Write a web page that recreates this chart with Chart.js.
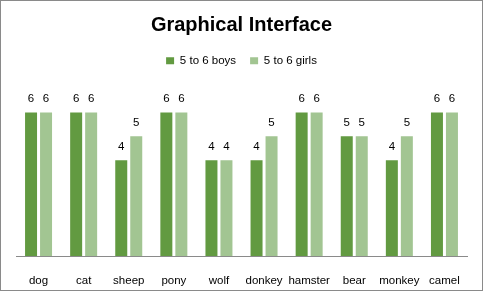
<!DOCTYPE html>
<html>
<head>
<meta charset="utf-8">
<script src="https://cdn.jsdelivr.net/npm/chart.js@4"></script>
<style>
  html, body { margin: 0; padding: 0; background: #fff; }
  #wrap { width: 483px; height: 291px; position: relative; }
</style>
</head>
<body>
<div id="wrap"><canvas id="chart" width="483" height="291"></canvas></div>
<script>
const categories = ['dog', 'cat', 'sheep', 'pony', 'wolf', 'donkey', 'hamster', 'bear', 'monkey', 'camel'];
const boys = [6, 6, 4, 6, 4, 4, 6, 5, 4, 6];
const girls = [6, 6, 5, 6, 4, 5, 6, 5, 5, 6];

const FONT = '"Liberation Sans", Arial, sans-serif';

// value labels above each bar
const valueLabels = {
    id: 'valueLabels',
    afterDatasetsDraw(chart) {
        const ctx = chart.ctx;
        ctx.save();
        ctx.font = '11.5px ' + FONT;
        ctx.fillStyle = '#000';
        ctx.textAlign = 'center';
        ctx.textBaseline = 'alphabetic';
        chart.data.datasets.forEach((ds, i) => {
            chart.getDatasetMeta(i).data.forEach((bar, j) => {
                ctx.fillText(ds.data[j], bar.x, bar.y - 10);
            });
        });
        ctx.restore();
    }
};

// extra room under the legend
const legendGap = {
    id: 'legendGap',
    beforeInit(chart) {
        const fit = chart.legend.fit;
        chart.legend.fit = function () {
            fit.bind(chart.legend)();
            this.height += 12;
        };
    }
};

const frame = {
    id: 'frame',
    afterDraw(chart) {
        const ctx = chart.ctx;
        ctx.save();
        ctx.strokeStyle = '#8a8a8a';
        ctx.lineWidth = 1;
        ctx.strokeRect(0.5, 0.5, chart.width - 1, chart.height - 1);
        ctx.restore();
    }
};

new Chart(document.getElementById('chart'), {
    type: 'bar',
    data: {
        labels: categories,
        datasets: [
            { label: '5 to 6 boys', data: boys, backgroundColor: '#629a41' },
            { label: '5 to 6 girls', data: girls, backgroundColor: '#a2c592' }
        ]
    },
    options: {
        responsive: false,
        animation: false,
        devicePixelRatio: 1,
        layout: { padding: { left: 16, right: 16, top: 8, bottom: 0 } },
        datasets: { bar: { categoryPercentage: 0.665, barPercentage: 0.8 } },
        scales: {
            x: {
                grid: { display: false },
                border: { display: true, color: '#8a8a8a' },
                ticks: { color: '#000', font: { family: FONT, size: 11.5 }, padding: 10, maxRotation: 0, autoSkip: false },
                afterFit(scale) { scale.height = 35; }
            },
            y: { display: false, min: 0, max: 7 }
        },
        plugins: {
            title: {
                display: true,
                text: 'Graphical Interface',
                color: '#000',
                font: { family: FONT, size: 20, weight: 'bold' },
                padding: { top: 5, bottom: 4 }
            },
            legend: {
                position: 'top',
                labels: {
                    color: '#000',
                    font: { family: FONT, size: 11.5 },
                    boxWidth: 8, boxHeight: 7, padding: 14
                }
            },
            tooltip: { enabled: false }
        }
    },
    plugins: [valueLabels, legendGap, frame]
});
</script>
</body>
</html>
